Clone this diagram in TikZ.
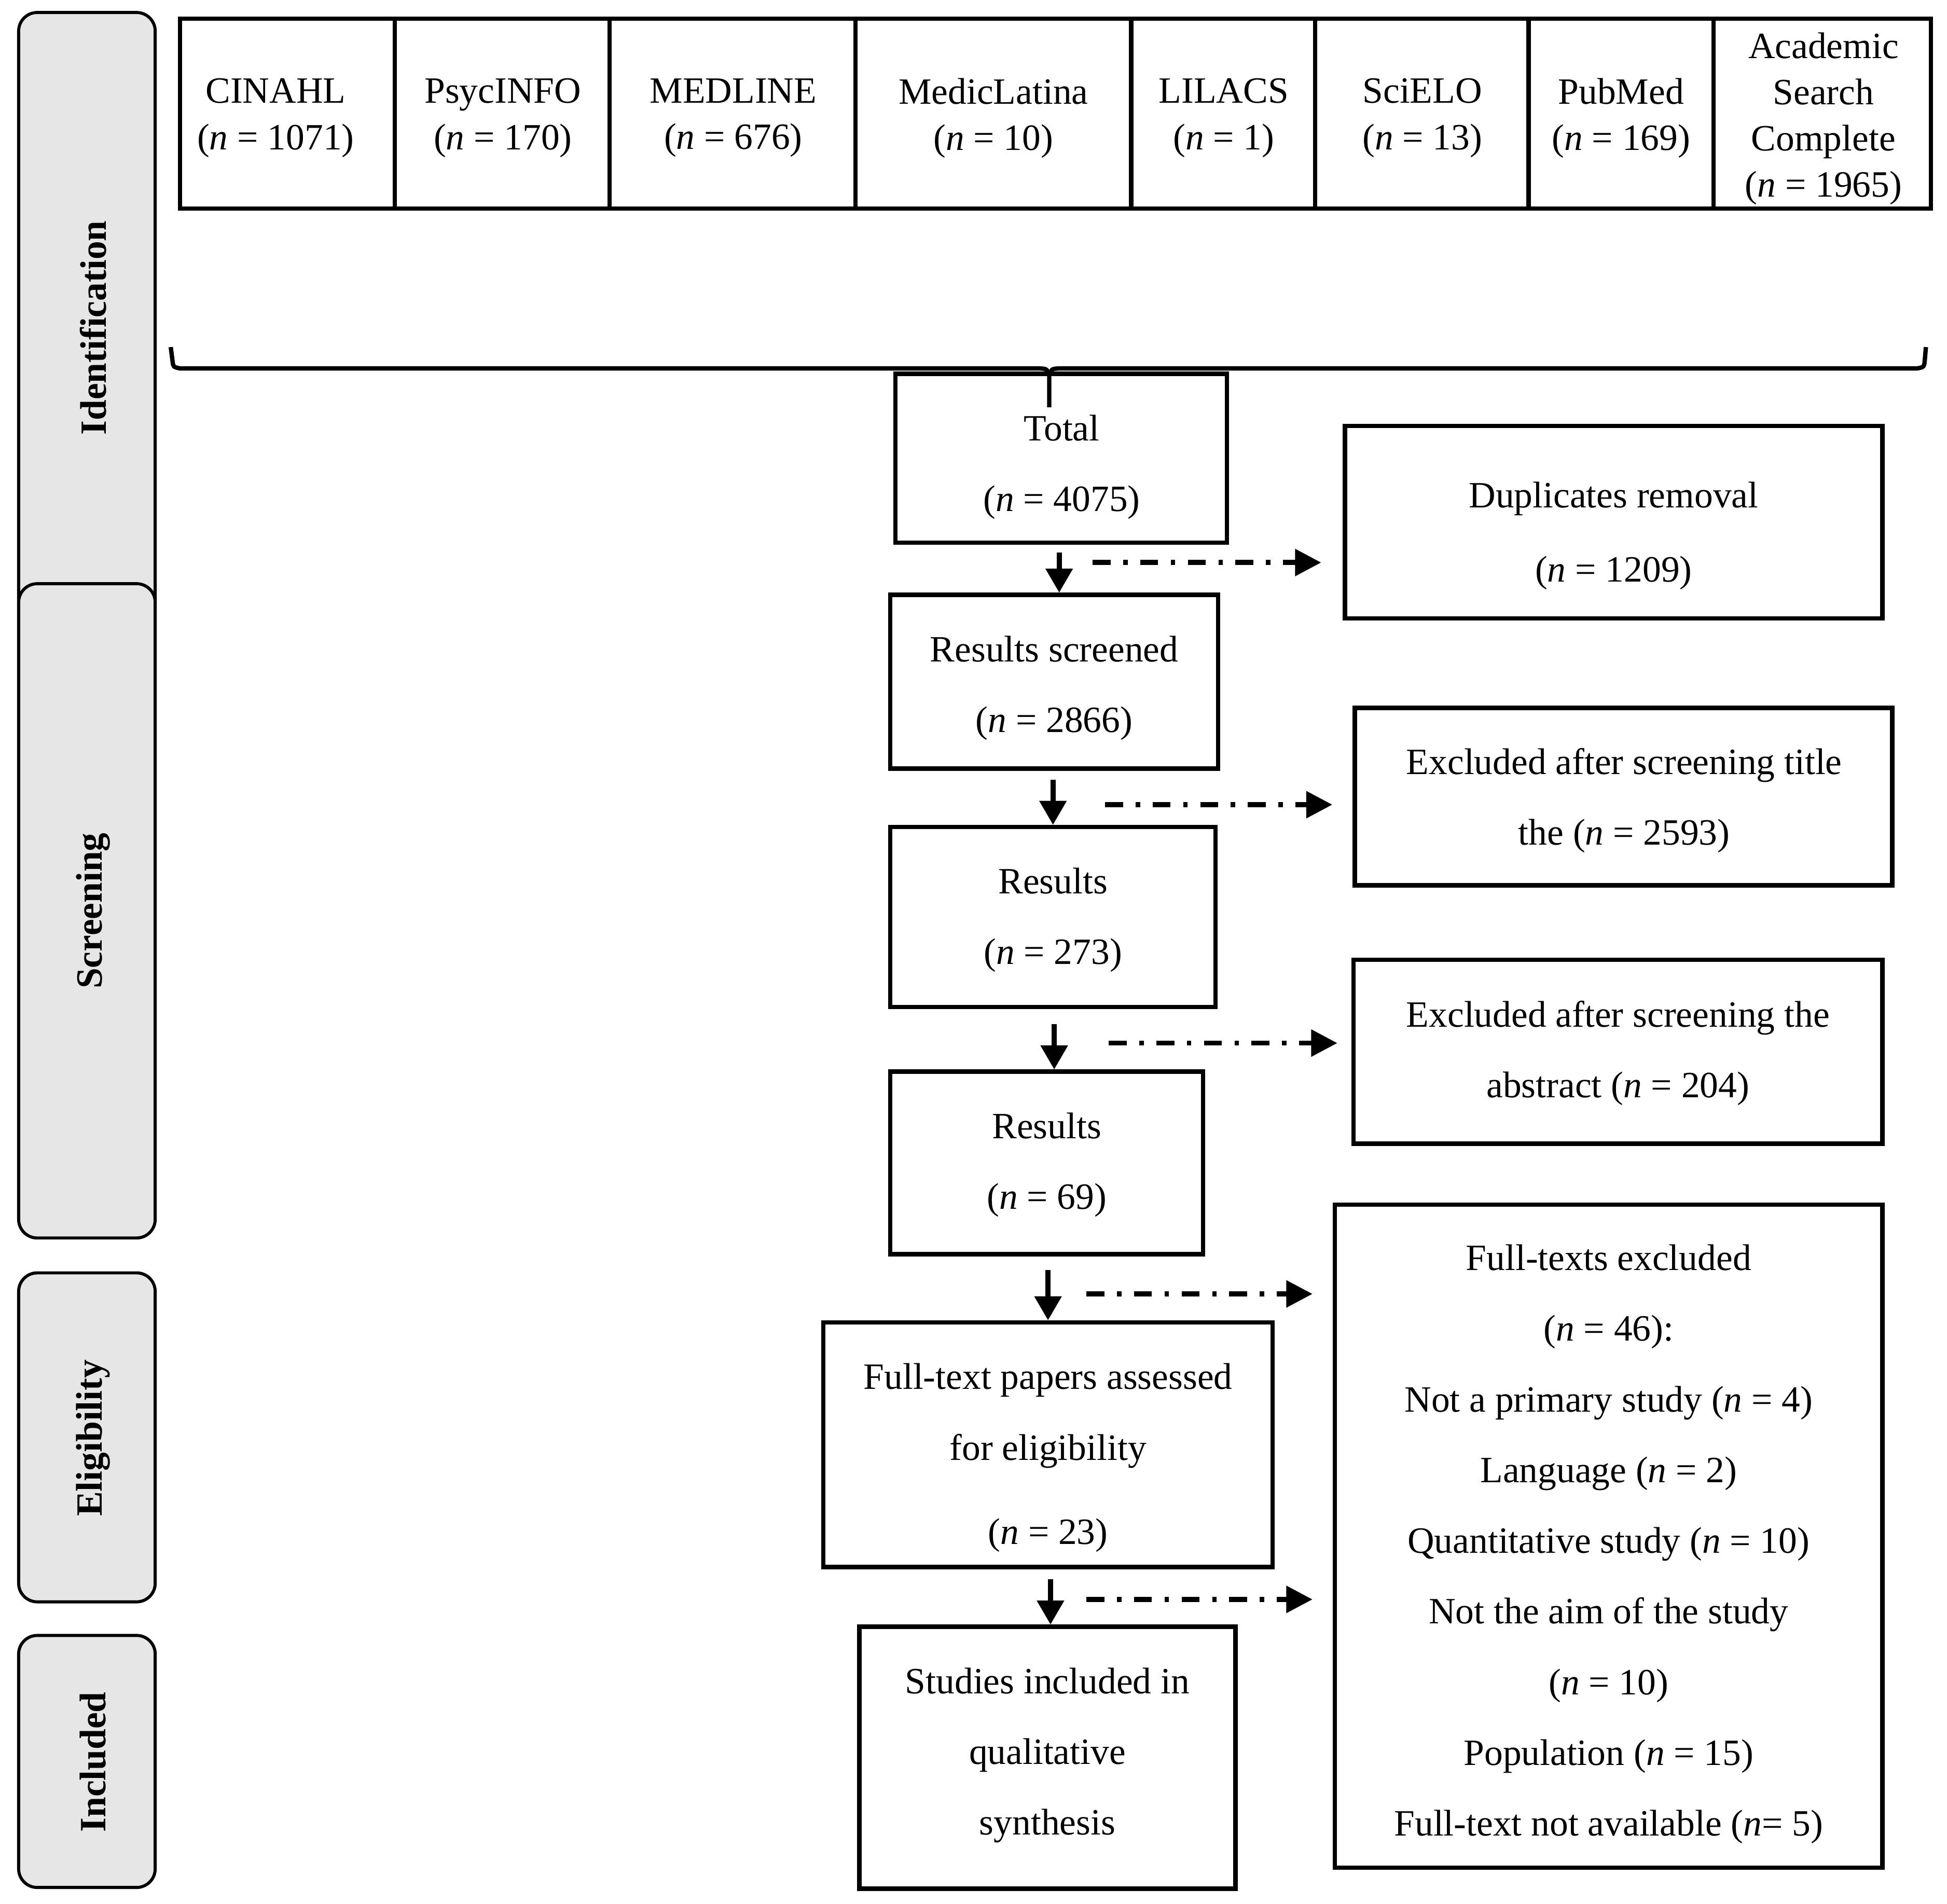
\documentclass[tikz,border=0pt]{standalone}
\usepackage{fontspec}
\setmainfont{Liberation Serif}
\usetikzlibrary{arrows.meta}
\definecolor{phasegray}{HTML}{E6E6E6}
\newcommand\nval[1]{(\textit{n}~=~#1)}
\begin{document}
\begin{tikzpicture}[x=0.02cm,y=-0.02cm,
  box/.style={draw, line width=2pt, inner sep=0pt},
  txt/.style={align=center, inner sep=0pt, font=\fontsize{17}{32.4}\selectfont},
  dbcell/.style={draw, line width=2pt, inner sep=0pt, minimum height=3.06cm},
  dbtxt/.style={align=center, inner sep=0pt, font=\fontsize{17}{21.2}\selectfont},
  phase/.style={draw, line width=1.4pt, fill=phasegray, rounded corners=0.3cm, minimum width=2.2cm, inner sep=0pt},
  phaselabel/.style={rotate=90, font=\fontsize{17}{19}\selectfont\bfseries},
  down/.style={line width=2.3pt, -{Triangle[width=12pt,length=11pt]}},
  side/.style={line width=2.3pt, dash pattern=on 8.2pt off 5.8pt on 2pt off 5.8pt, -{Triangle[width=12pt,length=12pt]}},
  bracestyle/.style={line width=2pt, line join=round}
]
\useasboundingbox (0,0) rectangle (1568,1533.3);

% phase boxes
\node[phase, minimum height=9.8cm] (pident) at (70,255) {};
\node[phase, minimum height=10.54cm] (pscreen) at (70,733.5) {};
\node[phase, minimum height=5.3cm] (pelig) at (70,1157.5) {};
\node[phase, minimum height=4.06cm] (pincl) at (70,1418.5) {};
\node[phaselabel] (lident) at (75,264) {Identification};
\node[phaselabel] (lscreen) at (75,733.5) {Screening};
\node[phaselabel] (lelig) at (75,1158) {Eligibility};
\node[phaselabel] (lincl) at (75,1419) {Included};

% databases
\node[dbcell, minimum width=3.46cm] (cinahl) at (231.5,91.5) {};
\node[dbcell, minimum width=3.46cm] (psyc) at (404.5,91.5) {};
\node[dbcell, minimum width=3.96cm] (medline) at (590,91.5) {};
\node[dbcell, minimum width=4.44cm] (medic) at (800,91.5) {};
\node[dbcell, minimum width=2.96cm] (lilacs) at (985,91.5) {};
\node[dbcell, minimum width=3.44cm] (scielo) at (1145,91.5) {};
\node[dbcell, minimum width=2.98cm] (pubmed) at (1305.5,91.5) {};
\node[dbcell, minimum width=3.50cm] (asc) at (1467.5,91.5) {};
\node[dbtxt] (cinahlT) at (222,95) {CINAHL\\\nval{1071}};
\node[dbtxt] (psycT) at (405,95) {PsycINFO\\\nval{170}};
\node[dbtxt] (medlineT) at (590.5,95) {MEDLINE\\\nval{676}};
\node[dbtxt] (medicT) at (800,95) {MedicLatina\\\nval{10}};
\node[dbtxt] (lilacsT) at (985.5,95) {LILACS\\\nval{1}};
\node[dbtxt] (scieloT) at (1145.5,95) {SciELO\\\nval{13}};
\node[dbtxt] (pubmedT) at (1305.5,95) {PubMed\\\nval{169}};
\node[dbtxt] (ascT) at (1468.5,95.5) {Academic\\Search\\Complete\\\nval{1965}};

% main flow boxes
\node[box, minimum width=5.34cm, minimum height=2.72cm] (total) at (854.5,369) {};
\node[box, minimum width=8.66cm, minimum height=3.10cm] (dup) at (1299.5,420.5) {};
\node[box, minimum width=5.28cm, minimum height=2.80cm] (screened) at (849,549) {};
\node[box, minimum width=8.66cm, minimum height=2.86cm] (excla) at (1307.5,641.5) {};
\node[box, minimum width=5.24cm, minimum height=2.90cm] (res273) at (848,738.5) {};
\node[box, minimum width=8.52cm, minimum height=2.96cm] (exclb) at (1303,847) {};
\node[box, minimum width=5.04cm, minimum height=2.94cm] (res69) at (843,936.5) {};
\node[box, minimum width=8.82cm, minimum height=10.68cm] (fullexcl) at (1295.5,1237) {};
\node[box, minimum width=7.24cm, minimum height=3.94cm] (fulltext) at (844,1163.5) {};
\node[box, minimum width=6.06cm, minimum height=4.22cm] (incl) at (843.5,1415.5) {};

% texts
\node[txt] (totalT) at (855,376) {Total\\\nval{4075}};
\node[txt, font=\fontsize{17}{34.2}\selectfont] (dupT) at (1299.5,431.5) {Duplicates removal\\\nval{1209}};
\node[txt] (screenedT) at (849,554) {Results screened\\\nval{2866}};
\node[txt] (exclaT) at (1308,644.5) {Excluded after screening title\\the \nval{2593}};
\node[txt] (res273T) at (848,741) {Results\\\nval{273}};
\node[txt] (exclbT) at (1303,848) {Excluded after screening the\\abstract \nval{204}};
\node[txt] (res69T) at (843,938) {Results\\\nval{69}};
\node[txt] (fullexclT) at (1295.5,1243.5) {Full-texts excluded\\\nval{46}:\\Not a primary study \nval{4}\\Language \nval{2}\\Quantitative study \nval{10}\\Not the aim of the study\\\nval{10}\\Population \nval{15}\\Full-text not available (\textit{n}=~5)};
\node[txt] (fulltextT) at (844,1174) {Full-text papers assessed\\for eligibility\\[0.22cm]\nval{23}};
\node[txt] (inclT) at (843.5,1413.5) {Studies included in\\qualitative\\synthesis};

% brace
\coordinate (bl) at (137.5,279.5);
\coordinate (br) at (1551,279.5);
\coordinate (bstem) at (845,328);
\draw[bracestyle] (bl) -- (139,291) .. controls (139.5,295.5) .. (145,296.7) -- (837,296.7) .. controls (843,297) .. (845,302) -- (bstem);
\draw[bracestyle] (845,302) .. controls (847,297) .. (853,296.7) -- (1544,296.7) .. controls (1549.5,295.5) .. (1550,291) -- (br);

% vertical arrows
\draw[down] ([xshift=0.08cm]total.south -| screened.north) ++(0,6) -- ([xshift=0.08cm]screened.north);
\draw[down] (screened.south -| res273.north) ++(0,7) -- (res273.north);
\draw[down] ([xshift=0.12cm]res273.south -| res69.north) ++(0,12) -- ([xshift=0.12cm]res69.north);
\draw[down] (res69.south -| fulltext.north) ++(0,11) -- (fulltext.north);
\draw[down] ([xshift=0.05cm]fulltext.south -| incl.north) ++(0,8) -- ([xshift=0.05cm]incl.north);

% side arrows
\coordinate (s1a) at (880,453);  \coordinate (s1b) at (1064,453);
\coordinate (s2a) at (890,648);  \coordinate (s2b) at (1073,648);
\coordinate (s3a) at (893,840);  \coordinate (s3b) at (1077,840);
\coordinate (s4a) at (875,1042); \coordinate (s4b) at (1057,1042);
\coordinate (s5a) at (875,1288); \coordinate (s5b) at (1057,1288);
\draw[side] (s1a) -- (s1b);
\draw[side] (s2a) -- (s2b);
\draw[side] (s3a) -- (s3b);
\draw[side] (s4a) -- (s4b);
\draw[side] (s5a) -- (s5b);
\end{tikzpicture}
\end{document}
